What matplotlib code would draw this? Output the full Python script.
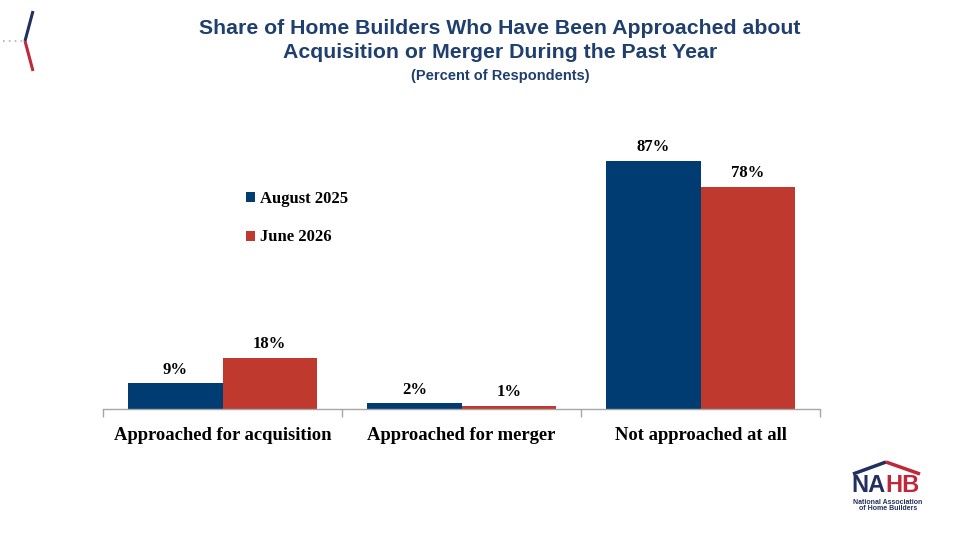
import matplotlib.pyplot as plt
from matplotlib.lines import Line2D
import numpy as np

# Data
categories = ['Approached for acquisition', 'Approached for merger', 'Not approached at all']
aug_2025 = [9, 2, 87]
jun_2026 = [18, 1, 78]
series_names = ['August 2025', 'June 2026']

blue = '#003B71'
red = '#C0392F'
title_color = '#1F3F6E'

W, H = 960, 540
fig = plt.figure(figsize=(9.6, 5.4), dpi=100)

def fx(px):
    return px / W

def fy(py):
    return 1 - py / H

# plot area: baseline at y=409, x from 103 to 820
ax = fig.add_axes([fx(103), fy(409), fx(820) - fx(103), (409 - 124) / H])

x = np.arange(len(categories))
width = 0.395
b1 = ax.bar(x - width / 2, aug_2025, width, color=blue, label=series_names[0])
b2 = ax.bar(x + width / 2, jun_2026, width, color=red, label=series_names[1])

ax.set_xlim(-0.5, 2.5)
ax.set_ylim(0, 100)
ax.set_yticks([])
for s in ['top', 'right', 'left']:
    ax.spines[s].set_visible(False)
ax.spines['bottom'].set_color('#A6A6A6')
ax.spines['bottom'].set_linewidth(1.0)

ax.set_xticks([-0.5, 0.5, 1.5, 2.5])
ax.set_xticklabels([])
ax.tick_params(axis='x', length=6, color='#A6A6A6', width=1.0, direction='out')
for i, c in enumerate(categories):
    ax.text(i, -6.2, c, ha='center', va='top', fontsize=13.4, fontweight='bold',
            family='Liberation Serif', color='black')

for bars, vals in [(b1, aug_2025), (b2, jun_2026)]:
    for bar, v in zip(bars, vals):
        ax.text(bar.get_x() + bar.get_width() / 2, v + 2.0, f'{v}%',
                ha='center', va='bottom', fontsize=12, fontweight='bold',
                family='Liberation Serif')

leg = ax.legend(loc='upper left', frameon=False,
                prop={'family': 'Liberation Serif', 'weight': 'bold', 'size': 12},
                handlelength=0.55, handleheight=0.55, handletextpad=0.3,
                labelspacing=1.35)
leg.set_bbox_to_anchor((fx(231), fy(176)), transform=fig.transFigure)

# Titles
fig.text(0.521, fy(29), 'Share of Home Builders Who Have Been Approached about',
         ha='center', va='center', fontsize=15.3, fontweight='bold',
         family='Liberation Sans', color=title_color)
fig.text(0.521, fy(53), 'Acquisition or Merger During the Past Year',
         ha='center', va='center', fontsize=15.3, fontweight='bold',
         family='Liberation Sans', color=title_color)
fig.text(0.521, fy(76), '(Percent of Respondents)',
         ha='center', va='center', fontsize=10.5, fontweight='bold',
         family='Liberation Sans', color=title_color)

# Top-left decoration
fig.add_artist(Line2D([fx(3), fx(24)], [fy(41), fy(41)], color='#B0B0B0',
                      lw=1.2, ls=(0, (1, 2.5)), transform=fig.transFigure))
fig.add_artist(Line2D([fx(33), fx(25)], [fy(11), fy(41)], color='#23305F',
                      lw=2.2, transform=fig.transFigure, solid_capstyle='butt'))
fig.add_artist(Line2D([fx(25), fx(33)], [fy(41), fy(71)], color='#C0283A',
                      lw=2.2, transform=fig.transFigure, solid_capstyle='butt'))

# NAHB logo
fig.add_artist(Line2D([fx(853), fx(886)], [fy(474), fy(462)], color='#23305F',
                      lw=2.5, transform=fig.transFigure, solid_capstyle='butt'))
fig.add_artist(Line2D([fx(886), fx(920)], [fy(462), fy(474)], color='#C0283A',
                      lw=2.5, transform=fig.transFigure, solid_capstyle='butt'))
fig.text(fx(851), fy(486), 'NA', ha='left', va='center', fontsize=17,
         fontweight='bold', family='Liberation Sans', color='#23305F')
fig.text(fx(885), fy(486), 'HB', ha='left', va='center', fontsize=17,
         fontweight='bold', family='Liberation Sans', color='#C0283A')
fig.text(fx(888), fy(502), 'National Association', ha='center', va='center',
         fontsize=5, fontweight='bold', family='Liberation Sans', color='#23305F')
fig.text(fx(888), fy(509), 'of Home Builders', ha='center', va='center',
         fontsize=5, fontweight='bold', family='Liberation Sans', color='#23305F')

fig.savefig('out.png', dpi=100)
